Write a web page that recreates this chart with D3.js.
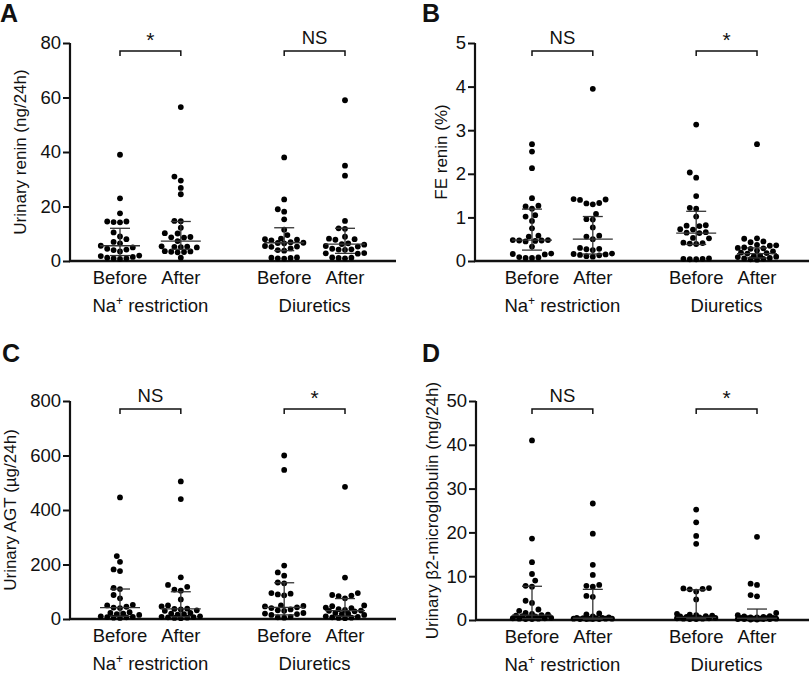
<!DOCTYPE html>
<html>
<head>
<meta charset="utf-8">
<script src="https://cdn.jsdelivr.net/npm/d3@7"></script>
<style>
  body { margin: 0; background: #fff; }
  text { font-family: "Liberation Sans", Arial, sans-serif; fill: #111; }
</style>
</head>
<body>
<div class="canvas"></div>
<script>
// groups shown on every panel
const groupLabels = ["Before", "After", "Before", "After"];
const treatments = ["Na\u207a restriction", "Diuretics"];
const groupSlots = [0, 1, 2.7, 3.7];

// A: urinary renin (ng/24h)
const reninValues = [
  [39, 23, 17.5, 14.5, 14.5, 14.3, 14.2, 10.5, 9, 8, 7, 6.5, 5.6, 5, 4.5, 4.2, 4, 3.5, 2, 1.8, 1.5, 1.2, 1, 1, 0.8],
  [56.5, 31, 29.5, 26.8, 24.5, 14.7, 14.6, 12.2, 10.2, 10.1, 8.8, 8.7, 8.6, 7.3, 5.4, 5.3, 5.2, 5.1, 5.0, 3.6, 3.5, 3.4, 3.3, 3.2, 1.2],
  [38, 22.6, 19, 18.1, 15.3, 11.5, 9.5, 8.2, 8, 7.8, 7.6, 6.9, 6.7, 6.6, 6.5, 5.5, 5.3, 5.2, 4.6, 4, 3.8, 1.3, 1.2, 1.1, 1.0, 0.9],
  [59, 35, 31.3, 14.7, 12, 11.8, 8.9, 8.2, 8.0, 7.8, 6.5, 6.2, 6.0, 5.5, 5.3, 4.5, 4.3, 4.2, 4.1, 2.9, 2.8, 2.7, 1.3, 1.2, 1.1, 1.0]
];
const reninMedian = [5.6, 7.3, 6.7, 6.2];
const reninQ1 = [2.0, 4.3, 3.8, 2.8];
const reninQ3 = [12, 14.5, 12.2, 12];

// B: FE renin (%)
const feValues = [
  [2.68, 2.51, 2.13, 1.44, 1.27, 1.25, 1.2, 1.05, 1.02, 0.92, 0.75, 0.58, 0.56, 0.48, 0.48, 0.47, 0.47, 0.46, 0.45, 0.33, 0.17, 0.16, 0.15, 0.09, 0.08, 0.07, 0.07],
  [3.95, 1.42, 1.41, 1.40, 1.33, 1.32, 1.30, 1.08, 0.96, 0.95, 0.77, 0.58, 0.56, 0.50, 0.30, 0.28, 0.27, 0.25, 0.17, 0.16, 0.15, 0.14, 0.13, 0.11, 0.10],
  [3.13, 2.03, 1.91, 1.49, 1.22, 1.20, 1.02, 0.82, 0.81, 0.80, 0.73, 0.72, 0.66, 0.65, 0.64, 0.53, 0.52, 0.42, 0.41, 0.40, 0.39, 0.06, 0.05, 0.05, 0.04, 0.04],
  [2.68, 0.52, 0.51, 0.45, 0.43, 0.37, 0.36, 0.35, 0.31, 0.30, 0.29, 0.28, 0.24, 0.22, 0.19, 0.18, 0.17, 0.12, 0.11, 0.10, 0.09, 0.07, 0.06, 0.05, 0.04, 0.03]
];
const feMedian = [0.48, 0.50, 0.64, 0.17];
const feQ1 = [0.25, 0.16, 0.38, 0.07];
const feQ3 = [1.19, 1.02, 1.14, 0.30];

// C: urinary AGT (µg/24h)
const agtValues = [
  [446, 231, 210, 182, 176, 114, 110, 88, 76, 52, 50, 45, 42, 40, 25, 22, 20, 18, 15, 10, 8, 7, 6, 5, 4],
  [505, 440, 153, 125, 118, 108, 104, 72, 50, 46, 38, 37, 35, 32, 30, 22, 20, 18, 16, 10, 8, 7, 6, 5, 4, 3],
  [600, 547, 196, 171, 159, 134, 131, 95, 93, 90, 87, 50, 48, 46, 43, 40, 35, 32, 30, 22, 20, 18, 15, 8, 6, 5],
  [485, 152, 95, 88, 86, 84, 76, 50, 47, 42, 40, 36, 33, 31, 30, 28, 22, 20, 18, 15, 10, 8, 6, 5, 4, 3]
];
const agtMedian = [42, 37, 43, 31];
const agtQ1 = [10, 8, 15, 10];
const agtQ3 = [110, 100, 133, 75];

// D: urinary beta2-microglobulin (mg/24h)
const b2mValues = [
  [41, 18.6, 13.2, 10.5, 9.0, 7.8, 7.6, 4.4, 3.9, 2.4, 2.1, 1.6, 1.4, 1.2, 1.1, 1.0, 0.9, 0.8, 0.6, 0.5, 0.4, 0.4, 0.3, 0.3, 0.2, 0.2],
  [26.6, 19.7, 12.6, 10.3, 8.0, 7.8, 7.6, 5.5, 5.3, 1.5, 1.3, 0.8, 0.6, 0.5, 0.5, 0.4, 0.4, 0.3, 0.3, 0.3, 0.3, 0.2, 0.2, 0.2, 0.2],
  [25.2, 22.3, 19.2, 17.4, 7.3, 7.2, 7.1, 7.0, 6.5, 4.7, 1.4, 1.2, 1.1, 1.0, 0.9, 0.8, 0.7, 0.6, 0.5, 0.5, 0.4, 0.4, 0.3, 0.3, 0.2, 0.2],
  [19.0, 8.3, 8.0, 5.7, 5.4, 1.6, 1.1, 0.9, 0.8, 0.7, 0.6, 0.6, 0.5, 0.5, 0.4, 0.4, 0.3, 0.3, 0.3, 0.2, 0.2, 0.2, 0.2, 0.1, 0.1]
];
const b2mMedian = [1.1, 0.4, 0.6, 0.4];
const b2mQ1 = [0.3, 0.2, 0.3, 0.2];
const b2mQ3 = [7.7, 7.0, 6.9, 2.5];

const yTicksA = [0, 20, 40, 60, 80];
const yTicksB = [0, 1, 2, 3, 4, 5];
const yTicksC = [0, 200, 400, 600, 800];
const yTicksD = [0, 10, 20, 30, 40, 50];
const significance = { A: ["*", "NS"], B: ["NS", "*"], C: ["NS", "*"], D: ["NS", "*"] };

const width = 810, height = 675;
const svg = d3.select(".canvas").append("svg")
    .attr("width", width)
    .attr("height", height);

const r = 2.9;
const maxSpread = 21;
const fs = 18.5;

// dodge layout, dots packed side by side and squeezed when a row gets too wide
const swarm = (values, y) => {
    const placed = [];
    const step = (2 * r + 0.6) / 2;
    values.slice().sort((a, b) => a - b).forEach(v => {
        const py = y(v);
        let best = null, bestGap = -Infinity;
        for (let k = 0; k < 60; k++) {
            const off = (k % 2 === 0 ? 1 : -1) * Math.ceil(k / 2) * step;
            if (Math.abs(off) > maxSpread) break;
            const gap = placed.length
                ? d3.min(placed, p => Math.hypot(p.dx - off, p.y - py))
                : Infinity;
            if (gap >= 2 * r + 0.4) { best = off; bestGap = gap; break; }
            if (gap > bestGap) { bestGap = gap; best = off; }
        }
        placed.push({ v, dx: best, y: py });
    });
    return placed;
};

const drawPanel = (p) => {
    const g = svg.append("g");
    const y = d3.scaleLinear().domain([0, p.ticks[p.ticks.length - 1]]).range([p.y0, p.y1]);
    const x = d3.scaleLinear().domain([0, 3.7]).range([p.gx0, p.gx0 + 225]);

    g.append("text")
        .attr("x", p.labelX).attr("y", p.labelY)
        .attr("font-size", 25).attr("font-weight", "bold")
        .text(p.name);

    const yAxis = d3.axisLeft(y).tickValues(p.ticks).tickSize(7).tickPadding(2)
        .tickFormat(d3.format("d"));
    const yAxisGroup = g.append("g")
        .attr("transform", `translate(${p.ax}, 0)`)
        .call(yAxis);
    yAxisGroup.select(".domain").attr("stroke", "#111").attr("stroke-width", 2.2)
        .attr("d", `M0,${p.y0 + 1}V${p.y1}`);
    yAxisGroup.selectAll(".tick line").attr("stroke", "#111").attr("stroke-width", 2);
    yAxisGroup.selectAll(".tick text")
        .attr("font-size", fs)
        .attr("font-family", "Liberation Sans, Arial, sans-serif")
        .attr("fill", "#111");

    g.append("line")
        .attr("x1", p.ax - 1).attr("x2", p.axEnd)
        .attr("y1", p.y0).attr("y2", p.y0)
        .attr("stroke", "#111").attr("stroke-width", 2.4);

    g.append("text")
        .attr("transform", `translate(${p.titleX}, ${(p.y0 + p.y1) / 2}) rotate(-90)`)
        .attr("text-anchor", "middle")
        .attr("dy", "0.35em")
        .attr("font-size", 17)
        .text(p.title);

    p.values.forEach((vals, i) => {
        const cx = x(groupSlots[i]);
        const dots = swarm(vals, y);
        g.append("g").selectAll("circle")
            .data(dots)
            .enter().append("circle")
            .attr("cx", d => cx + d.dx)
            .attr("cy", d => d.y)
            .attr("r", r)
            .attr("fill", "#000");

        const bar = g.append("g").attr("stroke", "#333").attr("stroke-width", 1.3);
        bar.append("line").attr("x1", cx).attr("x2", cx)
            .attr("y1", y(p.q1[i])).attr("y2", y(p.q3[i]));
        bar.append("line").attr("x1", cx - 10).attr("x2", cx + 10)
            .attr("y1", y(p.q3[i])).attr("y2", y(p.q3[i]));
        bar.append("line").attr("x1", cx - 10).attr("x2", cx + 10)
            .attr("y1", y(p.q1[i])).attr("y2", y(p.q1[i]));
        bar.append("line").attr("x1", cx - 20).attr("x2", cx + 20)
            .attr("y1", y(p.median[i])).attr("y2", y(p.median[i]));

        g.append("text")
            .attr("x", cx).attr("y", p.y0 + 23)
            .attr("text-anchor", "middle")
            .attr("font-size", fs)
            .text(groupLabels[i]);
    });

    treatments.forEach((t, j) => {
        const xa = x(groupSlots[2 * j]), xb = x(groupSlots[2 * j + 1]);
        const mid = (xa + xb) / 2;
        const label = g.append("text")
            .attr("x", mid).attr("y", p.y0 + 51)
            .attr("text-anchor", "middle")
            .attr("font-size", fs);
        if (j === 0) {
            label.append("tspan").text("Na");
            label.append("tspan").attr("dy", -7).attr("font-size", 12).text("+");
            label.append("tspan").attr("dy", 7).text(" restriction");
        } else {
            label.text(t);
        }

        const by = p.y1 + 8;
        g.append("path")
            .attr("d", `M${xa},${by + 5}V${by}H${xb}V${by + 5}`)
            .attr("fill", "none").attr("stroke", "#111").attr("stroke-width", 1.5);
        const s = p.sig[j];
        g.append("text")
            .attr("x", mid).attr("y", s === "*" ? by - 4 : by - 7)
            .attr("text-anchor", "middle")
            .attr("font-size", s === "*" ? 21 : fs)
            .text(s);
    });
};

const panels = [
    { name: "A", values: reninValues, median: reninMedian, q1: reninQ1, q3: reninQ3, ticks: yTicksA,
      title: "Urinary renin (ng/24h)", sig: significance.A,
      ax: 70, axEnd: 396, gx0: 120, y0: 261, y1: 43, titleX: 20, labelX: 0, labelY: 22 },
    { name: "B", values: feValues, median: feMedian, q1: feQ1, q3: feQ3, ticks: yTicksB,
      title: "FE renin (%)", sig: significance.B,
      ax: 475, axEnd: 809, gx0: 532, y0: 261, y1: 43, titleX: 441, labelX: 422, labelY: 22 },
    { name: "C", values: agtValues, median: agtMedian, q1: agtQ1, q3: agtQ3, ticks: yTicksC,
      title: "Urinary AGT (\u00b5g/24h)", sig: significance.C,
      ax: 70, axEnd: 396, gx0: 120, y0: 619, y1: 401, titleX: 10, labelX: 2, labelY: 362 },
    { name: "D", values: b2mValues, median: b2mMedian, q1: b2mQ1, q3: b2mQ3, ticks: yTicksD,
      title: "Urinary \u03b22-microglobulin (mg/24h)", sig: significance.D,
      ax: 476, axEnd: 809, gx0: 532, y0: 620, y1: 401, titleX: 432, labelX: 422, labelY: 362 }
];

panels.forEach(drawPanel);
</script>
</body>
</html>
